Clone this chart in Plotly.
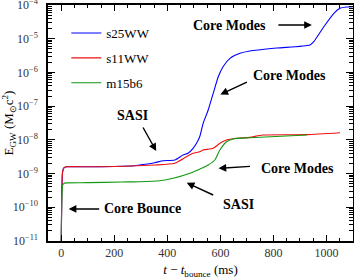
import plotly.graph_objects as go

# ---- data (t - t_bounce in ms, log10 of E_GW in Msun c^2) ----
s25_t = [0, 2, 5, 10, 20, 100, 200, 277, 296, 352, 384, 428, 459, 478, 497, 510, 522, 535,
         554, 573, 592, 610, 636, 674, 711, 813, 938, 952, 990, 1028, 1051, 1075, 1099]
s25_logE = [-11.0, -9.6, -8.95, -8.83, -8.80, -8.80, -8.79, -8.77, -8.746, -8.678, -8.619, -8.598,
            -8.45, -8.40, -8.251, -8.103, -7.907, -7.509, -7.115, -6.619, -6.127, -5.83, -5.581,
            -5.433, -5.365, -5.276, -5.187, -5.089, -4.644, -4.246, -4.098, -4.06, -4.05]

s11_t = [0, 2, 5, 10, 20, 100, 200, 277, 352, 428, 472, 497, 522, 535, 573, 598, 623, 661,
         711, 760, 926, 1051]
s11_logE = [-11.0, -9.6, -8.95, -8.83, -8.80, -8.80, -8.79, -8.77, -8.746, -8.696, -8.50, -8.399,
            -8.352, -8.301, -8.251, -8.103, -8.005, -7.954, -7.925, -7.856, -7.845, -7.788]

m15_t = [0, 2, 5, 10, 20, 100, 227, 296, 371, 422, 485, 529, 554, 579, 598, 623, 648, 711, 926]
m15_logE = [-11.0, -9.8, -9.35, -9.29, -9.275, -9.27, -9.25, -9.242, -9.212, -9.141, -8.993,
            -8.844, -8.746, -8.598, -8.301, -8.055, -7.975, -7.937, -7.856]

series_names = ["s25WW", "s11WW", "m15b6"]
series_colors = ["#0000ff", "#ee1111", "#119911"]

x_major = [0, 200, 400, 600, 800, 1000]
y_exponents = [-11, -10, -9, -8, -7, -6, -5, -4]

FONT = "Liberation Serif"

fig = go.Figure()
for i, (t, le) in enumerate([(s25_t, s25_logE), (s11_t, s11_logE), (m15_t, m15_logE)]):
    fig.add_trace(go.Scatter(
        x=t, y=[10 ** v for v in le], mode="lines", name=series_names[i],
        legendgroup=series_names[i],
        line=dict(color=series_colors[i], width=1.1, shape="spline", smoothing=0.6),
    ))

y_minor = [k * 10.0 ** e for e in range(-11, -4) for k in range(2, 10)]

fig.update_layout(
    width=354, height=279,
    margin=dict(l=48, r=1, t=5, b=38, autoexpand=False),
    paper_bgcolor="white", plot_bgcolor="white",
    font=dict(family=FONT, size=12, color="black"),
    showlegend=True,
    legend=dict(x=0.06, y=0.945, xanchor="left", yanchor="top",
                bgcolor="rgba(0,0,0,0)", font=dict(size=13, family=FONT),
                traceorder="grouped", tracegroupgap=5, itemwidth=30),
    xaxis=dict(
        range=[-50, 1100], showgrid=False, zeroline=False, automargin=False,
        showline=True, linecolor="black", linewidth=1.5, mirror="allticks",
        ticks="inside", ticklen=6, tickwidth=1.3, tickcolor="black",
        tickvals=x_major, ticktext=[str(v) for v in x_major],
        tickfont=dict(size=12, color="#333"),
        minor=dict(ticks="inside", ticklen=3.5, tickwidth=1.1, dtick=50, tick0=0,
                   tickcolor="black", showgrid=False),
        title=dict(text="<i>t</i> − <i>t</i><sub>bounce</sub> (ms)",
                   font=dict(size=13, family=FONT)),
    ),
    yaxis=dict(
        type="log", range=[-11.0005, -3.9995], showgrid=False, zeroline=False, automargin=False,
        showline=True, linecolor="black", linewidth=1.5, mirror="allticks",
        ticks="inside", ticklen=7, tickwidth=1.3, tickcolor="black",
        tickvals=[10.0 ** e for e in y_exponents],
        ticktext=["10<sup>−%d</sup>" % (-e) for e in y_exponents],
        tickfont=dict(size=12, color="#333"),
        ticklabelstandoff=6, ticklabeloverflow="allow",
        minor=dict(ticks="inside", ticklen=4, tickwidth=1.0, tickcolor="black",
                   tickmode="array", tickvals=y_minor, showgrid=False),
        title=dict(text="E<sub>GW</sub> (M<sub>⊙</sub>c<sup>2</sup>)",
                   font=dict(size=13, family=FONT)),
    ),
)

# text labels (data coords, y in log10)
labels = [
    ("Core Modes", 633, -4.593),
    ("Core Modes", 860, -6.077),
    ("SASI", 267, -7.263),
    ("Core Bounce", 307, -10.05),
    ("Core Modes", 891, -8.835),
    ("SASI", 670, -9.903),
]
for txt, x, y in labels:
    fig.add_annotation(x=x, y=y, text="<b>%s</b>" % txt, showarrow=False,
                       font=dict(size=14, family=FONT, color="black"),
                       xanchor="center", yanchor="middle")

# arrows: head position (data) and tail offset (pixels)
arrows = [
    (945, -4.593, -35, 0),
    (600, -6.655, 28, -13),
    (358, -8.331, -14, -25),
    (28, -10.05, 32, 0),
    (593, -8.844, 33, -2),
    (473, -9.271, 28, 13),
]
for x, y, ax, ay in arrows:
    fig.add_annotation(x=x, y=y, ax=ax, ay=ay, text="", showarrow=True,
                       arrowhead=2, arrowsize=1.1, arrowwidth=1.4, arrowcolor="black",
                       standoff=0, startstandoff=0)

fig.write_html("out.html", config={"displayModeBar": False},
               post_script="document.body.style.margin='0';")
